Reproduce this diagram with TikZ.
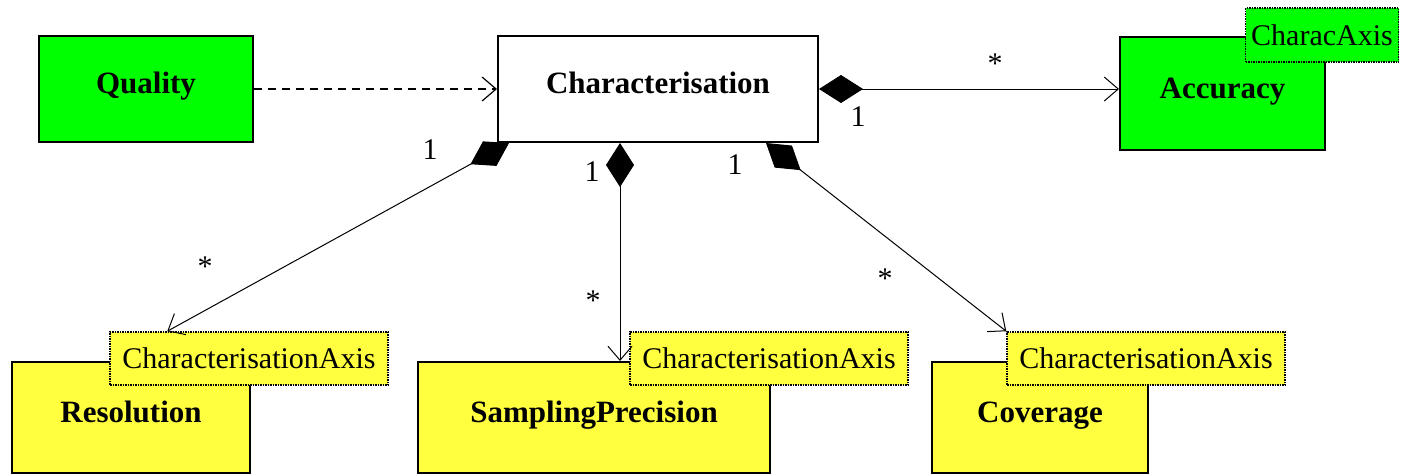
\documentclass[tikz,border=0pt]{standalone}
\usepackage{fontspec}
\setmainfont{Liberation Serif}
\usepackage{xcolor}
\usetikzlibrary{arrows.meta,positioning,calc}
\definecolor{umlgreen}{RGB}{0,255,0}
\definecolor{umlyellow}{RGB}{255,255,64}
\tikzset{%
   cls/.style={
      draw=black,
      line width=2pt,
      inner sep=0pt,
      text height=22pt,
      text depth=13pt,
      font=\fontsize{31}{31}\selectfont\bfseries
   },
   tag/.style={
      draw=black,
      densely dotted,
      line width=1.5pt,
      inner sep=0pt,
      font=\fontsize{30}{30}\selectfont
   },
   mult/.style={
      inner sep=0pt,
      font=\fontsize{30}{30}\selectfont
   },
   comp/.style={
      line width=1pt,
      {Diamond[length=44pt,width=28pt]}-{Straight Barb[length=14pt,width=24pt]}
   },
   dep/.style={
      line width=1.2pt,
      dash pattern=on 8pt off 6pt,
      -{Straight Barb[length=14pt,width=24pt]}
   },
}
\begin{document}
\begin{tikzpicture}[x=1pt,y=-1pt]
   \useasboundingbox (0,0) rectangle (1402,475);
   \node[cls, fill=umlgreen, minimum width=214pt, minimum height=106pt] (qual) at (146,89) {Quality};
   \node[cls, fill=white, minimum width=320pt, minimum height=106pt] (chr) at (658,89) {Characterisation};
   \node[cls, fill=umlgreen, minimum width=205pt, minimum height=113pt] (acc) at (1222.5,93.5) {Accuracy};
   \node[cls, fill=umlyellow, minimum width=238pt, minimum height=111pt] (res) at (131,417.5) {Resolution};
   \node[cls, fill=umlyellow, minimum width=352pt, minimum height=111pt] (sp) at (594,417.5) {SamplingPrecision};
   \node[cls, fill=umlyellow, minimum width=216pt, minimum height=111pt] (cov) at (1040,417.5) {Coverage};
   \node[tag, fill=umlgreen, minimum width=153pt, minimum height=54pt] (acctag) at (1322,35) {CharacAxis};
   \node[tag, fill=umlyellow, minimum width=278pt, minimum height=53pt] (restag) at (249,358.5) {CharacterisationAxis};
   \node[tag, fill=umlyellow, minimum width=278pt, minimum height=53pt] (sptag) at (769,358.5) {CharacterisationAxis};
   \node[tag, fill=umlyellow, minimum width=278pt, minimum height=53pt] (covtag) at (1146,358.5) {CharacterisationAxis};

   \draw[dep] (qual.east) -- (chr.west);
   \draw[comp] (chr.east) -- (chr.east -| acc.west);
   \draw[comp] ([xshift=12pt]chr.south west) -- ([xshift=58pt]restag.north west);
   \draw[comp] ([xshift=-38pt]chr.south) -- ([xshift=26pt]sp.north);
   \draw[comp] ([xshift=-53pt]chr.south east) -- (covtag.north west);

   \node[mult] (accstar) at (995,64) {*};
   \node[mult] (accone) at (858,117) {1};
   \node[mult] (resone) at (430,150) {1};
   \node[mult] (resstar) at (205,267) {*};
   \node[mult] (spone) at (592,172) {1};
   \node[mult] (spstar) at (593,301) {*};
   \node[mult] (covone) at (735,165) {1};
   \node[mult] (covstar) at (885,279) {*};
\end{tikzpicture}
\end{document}
